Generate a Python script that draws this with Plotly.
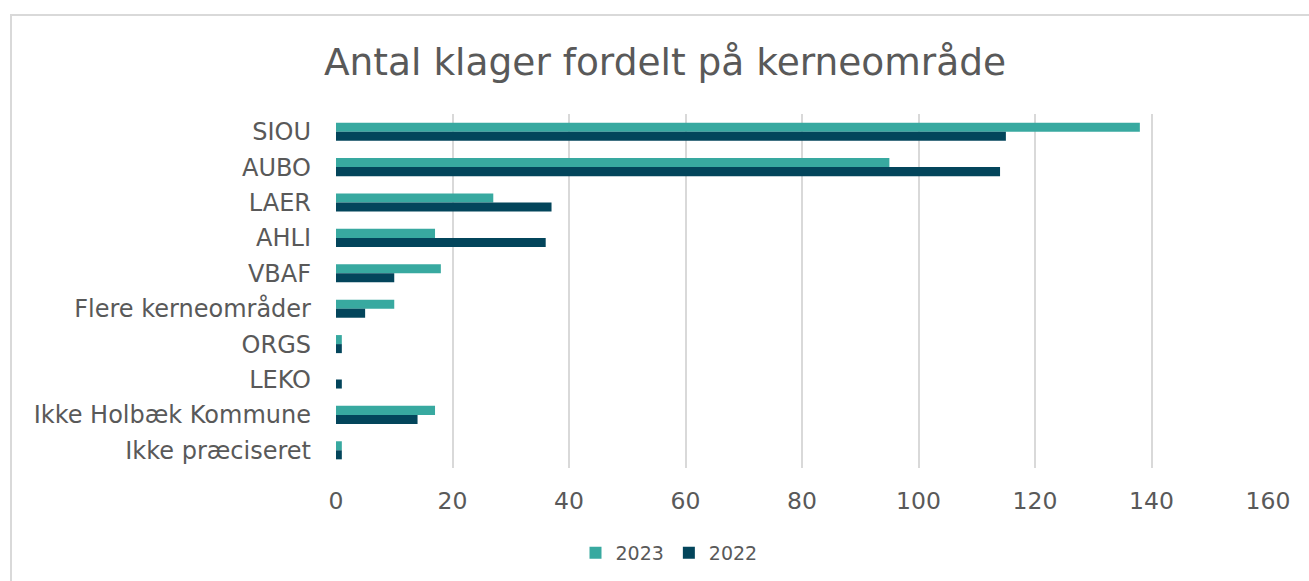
import plotly.graph_objects as go

# data
categories = ["SIOU", "AUBO", "LAER", "AHLI", "VBAF", "Flere kerneområder",
              "ORGS", "LEKO", "Ikke Holbæk Kommune", "Ikke præciseret"]
vals_2023 = [138, 95, 27, 17, 18, 10, 1, 0, 17, 1]
vals_2022 = [115, 114, 37, 36, 10, 5, 1, 1, 14, 1]

c2023 = "#38A9A0"
c2022 = "#03455B"
txt = "#595959"
font = "DejaVu Sans, Verdana, sans-serif"

fig = go.Figure()
fig.add_trace(go.Bar(y=categories, x=vals_2023, name="2023", orientation="h",
                     marker=dict(color=c2023, line=dict(width=0))))
fig.add_trace(go.Bar(y=categories, x=vals_2022, name="2022", orientation="h",
                     marker=dict(color=c2022, line=dict(width=0))))

# plot area in pixels: x 336..1268, y 114..468
L, R, T, B = 336, 1268, 114, 468
W, H = 1309, 581
pw, ph = R - L, B - T

fig.update_layout(
    width=W, height=H,
    margin=dict(l=L, r=W - R, t=T, b=H - B, autoexpand=False),
    barmode="group", bargap=0.49, bargroupgap=0,
    plot_bgcolor="white", paper_bgcolor="white",
    font=dict(family=font, color=txt),
    title=dict(text="Antal klager fordelt på kerneområde", x=665 / W, xanchor="center",
               y=1 - 62 / H, yanchor="middle",
               font=dict(size=37.5, color=txt, family=font)),
    legend=dict(orientation="h", x=(669 - L) / pw, xanchor="center", y=-(553 - B) / ph,
                yanchor="middle", font=dict(size=19, color=txt, family=font),
                itemwidth=30, traceorder="normal"),
    showlegend=True,
)

fig.update_xaxes(range=[0, 160], dtick=20, showgrid=True, gridcolor="#D9D9D9",
                 gridwidth=2, zeroline=False, showline=False, ticks="",
                 tickfont=dict(size=23.5, color=txt, family=font), ticklabelstandoff=16,
                 fixedrange=True)
fig.update_yaxes(autorange="reversed", showgrid=False, zeroline=False, showline=False,
                 ticks="", tickfont=dict(size=24, color=txt, family=font),
                 ticklabelstandoff=24, fixedrange=True)

# chart border
fig.add_shape(type="rect", xref="paper", yref="paper",
              x0=(11 - L) / pw, x1=(1320 - L) / pw,
              y0=-(600 - B) / ph, y1=1 + (T - 15) / ph,
              line=dict(color="#D9D9D9", width=2), fillcolor="rgba(0,0,0,0)",
              layer="below")

fig.write_html("out.html", config={"displayModeBar": False},
               post_script="document.body.style.margin='0';")
